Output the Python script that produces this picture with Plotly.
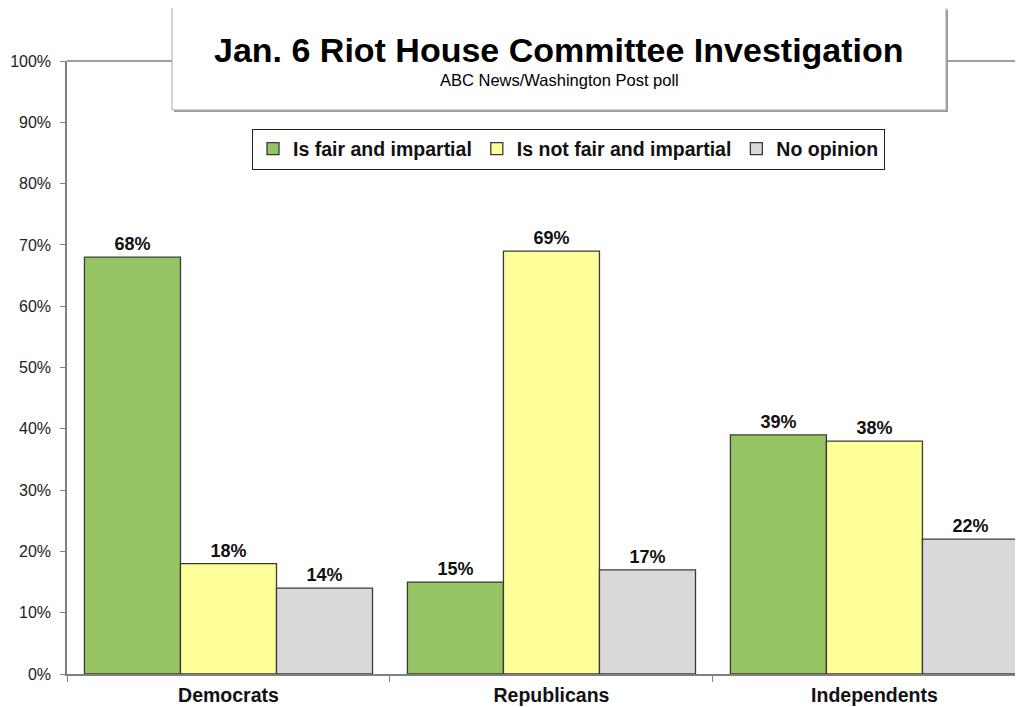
import plotly.graph_objects as go

categories = ["Democrats", "Republicans", "Independents"]
series_names = ["Is fair and impartial", "Is not fair and impartial", "No opinion"]
fair = [68, 15, 39]
not_fair = [18, 69, 38]
no_opinion = [14, 17, 22]
y_ticks = [0, 10, 20, 30, 40, 50, 60, 70, 80, 90, 100]
y_tick_labels = [f"{v}%" for v in y_ticks]

colors = ["#96C462", "#FFFF99", "#D9D9D9"]
FONT = "Liberation Sans, Arial, sans-serif"

# page offset (body margin) of 8px; plot area in page coords: x 67..1023, y 61..674
W, H = 1015, 699
fig = go.Figure()
for name, vals, col in zip(series_names, [fair, not_fair, no_opinion], colors):
    fig.add_trace(go.Bar(
        x=categories, y=vals, name=name,
        marker=dict(color=col, line=dict(color="#3a3a3a", width=1.3)),
        text=[f"{v}%" for v in vals], textposition="outside",
        textfont=dict(family=FONT, size=18, color="#111111", weight="bold"),
        cliponaxis=False,
    ))

fig.update_layout(
    width=W, height=H,
    margin=dict(l=59, r=0, t=53, b=33),
    paper_bgcolor="white", plot_bgcolor="white",
    barmode="group", bargap=0.108, bargroupgap=0,
    font=dict(family=FONT, color="#111111"),
    showlegend=True,
    legend=dict(
        orientation="h", x=(568.5 - 67) / 956, y=(674 - 149) / 613,
        xanchor="center", yanchor="middle",
        bordercolor="#222222", borderwidth=1, bgcolor="white",
        font=dict(family=FONT, size=19.5, color="#111111", weight="bold"),
        traceorder="normal",
    ),
    xaxis=dict(
        range=[-0.5, 2.46], showline=True, linecolor="#808080", linewidth=1.5,
        ticks="outside", tickson="boundaries", ticklen=6, tickcolor="#808080",
        ticklabelstandoff=3,
        tickfont=dict(family=FONT, size=19.5, color="#111111", weight="bold"),
        showgrid=False, fixedrange=True,
    ),
    yaxis=dict(
        range=[0, 100], tickvals=y_ticks, ticktext=y_tick_labels,
        showline=True, linecolor="#808080", linewidth=1.5,
        ticks="outside", ticklen=5, tickcolor="#808080", ticklabelstandoff=6,
        tickfont=dict(family=FONT, size=16, color="#222222"),
        showgrid=False, zeroline=False, fixedrange=True,
    ),
)

# top border line at 100%
fig.add_shape(type="line", xref="paper", yref="paper", x0=0, x1=1, y0=1, y1=1,
              line=dict(color="#808080", width=1.5))
# title box shadow + box
bx0, bx1 = (172 - 67) / 956, (946 - 67) / 956
by0, by1 = (674 - 110) / 613, (674 - 10) / 613
fig.add_shape(type="rect", xref="paper", yref="paper",
              x0=bx0 + 2 / 956, x1=bx1 + 2 / 956, y0=by0 - 2 / 613, y1=by1,
              fillcolor="#9a9a9a", line=dict(width=0))
fig.add_shape(type="rect", xref="paper", yref="paper",
              x0=bx0, x1=bx1, y0=by0, y1=by1 + 0.03,
              fillcolor="white", line=dict(color="#aaaaaa", width=1))

fig.add_annotation(text="<b>Jan. 6 Riot House Committee Investigation</b>",
                   xref="paper", yref="paper", x=(559 - 67) / 956, y=(674 - 50) / 613,
                   showarrow=False, font=dict(family=FONT, size=34, color="#000000"),
                   xanchor="center", yanchor="middle")
fig.add_annotation(text="ABC News/Washington Post poll",
                   xref="paper", yref="paper", x=(559 - 67) / 956, y=(674 - 80) / 613,
                   showarrow=False, font=dict(family=FONT, size=16.5, color="#000000"),
                   xanchor="center", yanchor="middle")

fig.write_html("out.html", config={"displayModeBar": False})
